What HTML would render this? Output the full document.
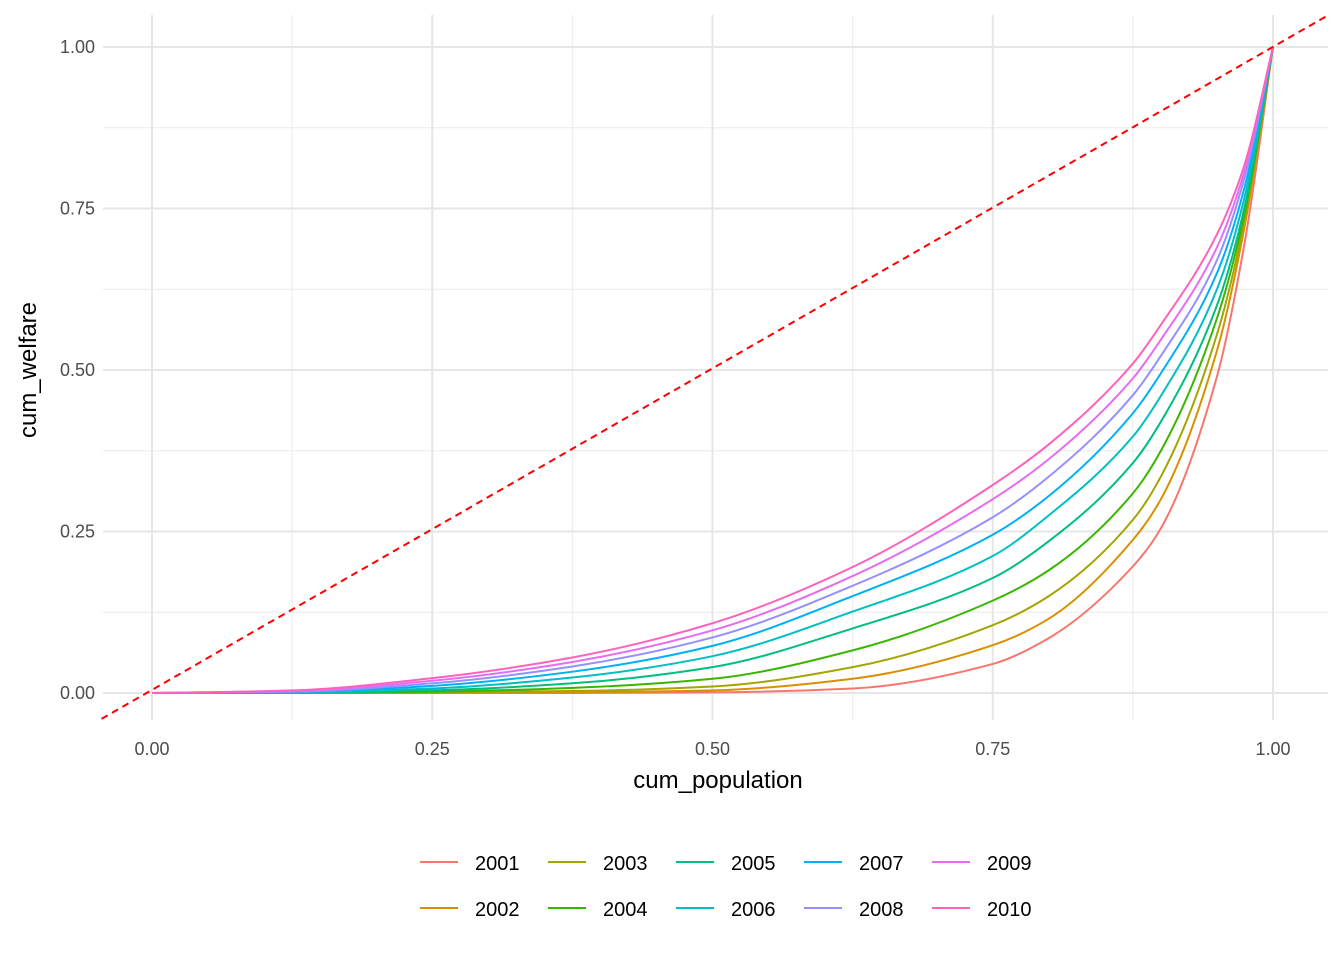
<!DOCTYPE html>
<html><head><meta charset="utf-8"><style>
body{margin:0;background:#fff;}
svg text{font-family:"Liberation Sans",Arial,sans-serif;}
</style></head><body>
<svg id="chart" width="1344" height="960">
<g id="grid"></g>
<g id="lines"></g>
<g id="axes"></g>
<text x="718" y="788" font-size="24" text-anchor="middle" fill="#000">cum_population</text>
<text transform="translate(36,370) rotate(-90)" font-size="24" text-anchor="middle" fill="#000">cum_welfare</text>
<g id="legend"></g>
</svg>
<script>
const xs = [0,0.125,0.25,0.375,0.5,0.625,0.75,0.8,0.875,0.9,0.95,0.975,1];
const years = ["2001","2002","2003","2004","2005","2006","2007","2008","2009","2010"];
const s2001 = [0,0,0,0,0.001,0.007,0.045,0.085,0.196,0.255,0.49,0.70,1];
const s2002 = [0,0,0,0.001,0.004,0.022,0.074,0.115,0.237,0.30,0.53,0.725,1];
const s2003 = [0,0,0.001,0.003,0.01,0.04,0.105,0.15,0.268,0.335,0.555,0.735,1];
const s2004 = [0,0,0.002,0.008,0.022,0.066,0.143,0.19,0.309,0.375,0.58,0.745,1];
const s2005 = [0,0.0005,0.004,0.015,0.04,0.10,0.178,0.235,0.356,0.42,0.60,0.755,1];
const s2006 = [0,0.001,0.007,0.024,0.057,0.126,0.212,0.275,0.397,0.46,0.625,0.77,1];
const s2007 = [0,0.0015,0.011,0.033,0.073,0.150,0.245,0.305,0.433,0.495,0.65,0.785,1];
const s2008 = [0,0.002,0.015,0.041,0.086,0.166,0.272,0.335,0.461,0.522,0.67,0.80,1];
const s2009 = [0,0.003,0.019,0.048,0.097,0.181,0.30,0.362,0.487,0.547,0.69,0.81,1];
const s2010 = [0,0.004,0.023,0.055,0.108,0.195,0.322,0.385,0.51,0.57,0.71,0.82,1];
const series = [s2001,s2002,s2003,s2004,s2005,s2006,s2007,s2008,s2009,s2010];
const colors = ["#F8766D","#D89000","#A3A500","#39B600","#00BF7D","#00BFC4","#00B0F6","#9590FF","#E76BF3","#FF62BC"];
const ticks = [0,0.25,0.5,0.75,1];
const tickLabels = ["0.00","0.25","0.50","0.75","1.00"];

const NS="http://www.w3.org/2000/svg";
const X=v=>152+1121*v, Y=v=>693-646*v;
function mk(tag,attrs,parent){const e=document.createElementNS(NS,tag);for(const k in attrs)e.setAttribute(k,attrs[k]);parent.appendChild(e);return e;}
const grid=document.getElementById('grid'), lines=document.getElementById('lines'), axes=document.getElementById('axes'), legend=document.getElementById('legend');
const L=103,R=1328,T=15,B=720;
for(let i=0;i<4;i++){const m=(ticks[i]+ticks[i+1])/2;
 let g=mk('line',{x1:X(m),x2:X(m),y1:T,y2:B,stroke:'#ebebeb','stroke-width':1},grid);
 
 g=mk('line',{x1:L,x2:R,y1:Y(m),y2:Y(m),stroke:'#ebebeb','stroke-width':1},grid);
 }
ticks.forEach((t,i)=>{
 let g=mk('line',{x1:X(t),x2:X(t),y1:T,y2:B,stroke:'#e6e6e6','stroke-width':2},grid);
 
 g=mk('line',{x1:L,x2:R,y1:Y(t),y2:Y(t),stroke:'#e6e6e6','stroke-width':2},grid);
 
 let tx=mk('text',{x:X(t),y:755,'font-size':18,'text-anchor':'middle',fill:'#4d4d4d'},axes);tx.textContent=tickLabels[i];
 
 tx=mk('text',{x:95,y:Y(t)+6,'font-size':18,'text-anchor':'end',fill:'#4d4d4d'},axes);tx.textContent=tickLabels[i];
 
});
function path(vals){
 const n=xs.length, h=[], d=[], m=new Array(n);
 for(let i=0;i<n-1;i++){h.push(xs[i+1]-xs[i]);d.push((vals[i+1]-vals[i])/h[i]);}
 m[0]=d[0];m[n-1]=d[n-2];
 for(let i=1;i<n-1;i++){ if(d[i-1]*d[i]<=0)m[i]=0; else{const w1=2*h[i]+h[i-1],w2=h[i]+2*h[i-1];m[i]=(w1+w2)/(w1/d[i-1]+w2/d[i]);}}
 let s='M'+X(xs[0])+','+Y(vals[0]);
 for(let i=0;i<n-1;i++){
  const c1x=xs[i]+h[i]/3,c1y=vals[i]+m[i]*h[i]/3,c2x=xs[i+1]-h[i]/3,c2y=vals[i+1]-m[i+1]*h[i]/3;
  s+=` C${X(c1x)},${Y(c1y)} ${X(c2x)},${Y(c2y)} ${X(xs[i+1])},${Y(vals[i+1])}`;}
 return s;}
series.forEach((s,i)=>{const e=mk('path',{d:path(s),fill:'none',stroke:colors[i],'stroke-width':2},lines);
 });
const eq=mk('line',{x1:X(-0.045),y1:Y(-0.04),x2:X(1.05),y2:Y(1.05),stroke:'#ff0000','stroke-width':2,'stroke-dasharray':'7,5'},lines);

years.forEach((yr,i)=>{const col=Math.floor(i/2),row=i%2;const x0=420+col*128,y0=862+row*46;
 const g=mk('g',{},legend);
 mk('line',{x1:x0,x2:x0+38,y1:y0,y2:y0,stroke:colors[i],'stroke-width':2},g);
 const t=mk('text',{x:x0+55,y:y0+8,'font-size':20,fill:'#000'},g);t.textContent=yr;});
</script>
</body></html>
